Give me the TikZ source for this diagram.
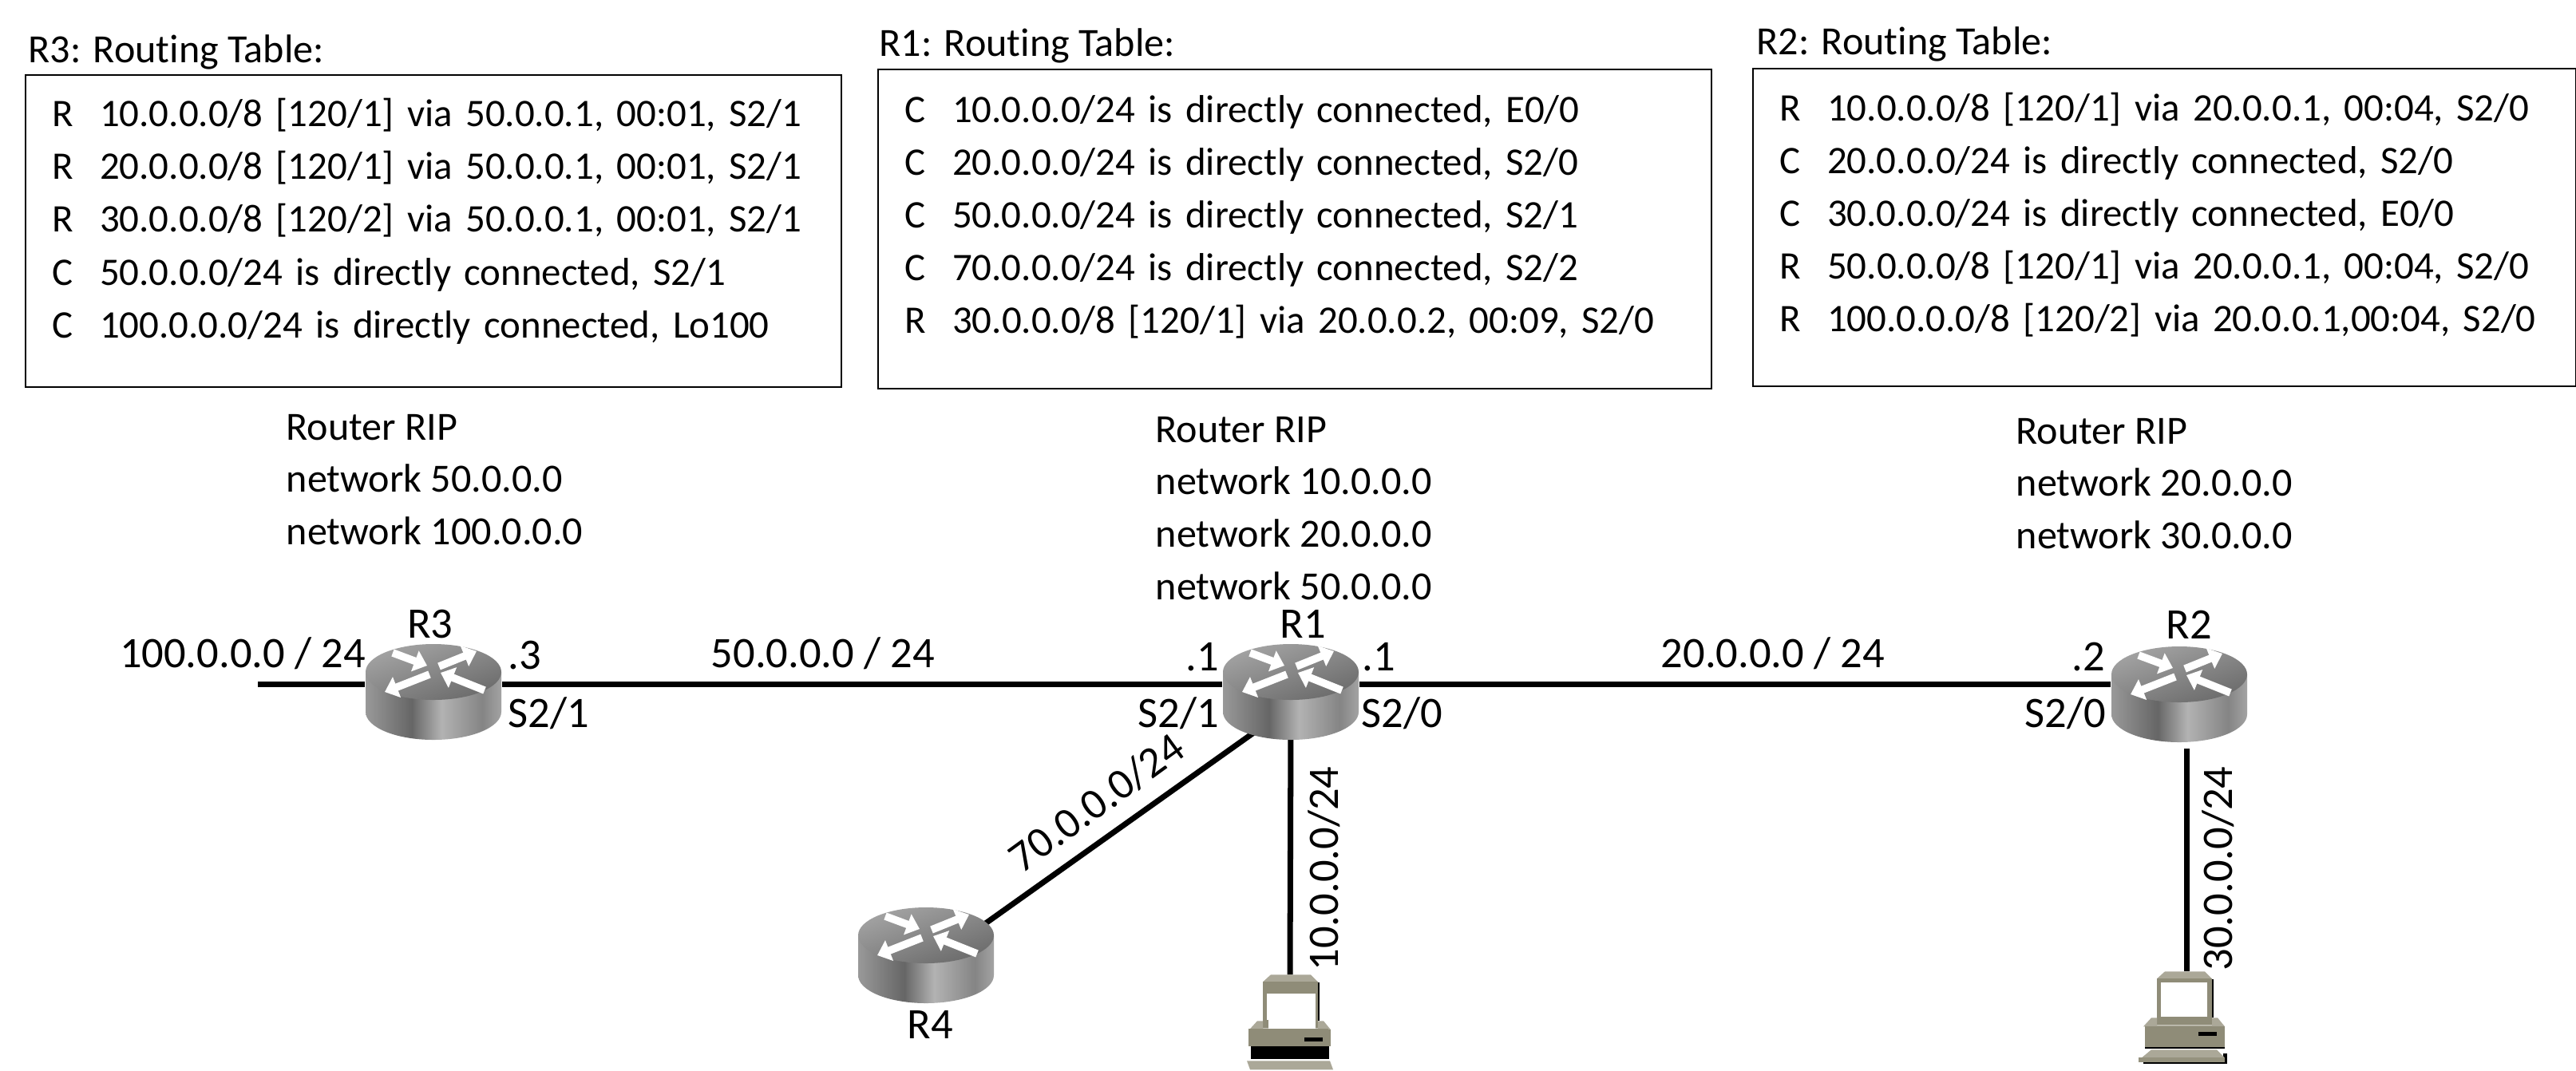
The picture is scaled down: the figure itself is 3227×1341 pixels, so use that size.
\documentclass[tikz,border=0pt]{standalone}
\usepackage{fontspec}
\setmainfont[Ligatures=CommonOff]{Carlito}
\usetikzlibrary{arrows.meta,positioning}
\pgfdeclarehorizontalshading{routerside}{100bp}{color(0bp)=(black!40); color(25bp)=(black!40);
  color(42bp)=(black!60); color(53bp)=(black!30); color(68bp)=(black!48); color(75bp)=(black!36); color(100bp)=(black!36)}
\definecolor{pclight}{HTML}{ABA898}
\definecolor{pcbody}{HTML}{8F8C78}
\newcommand{\rowtab}[2]{\begin{tabular}{@{}p{.6cm}@{}l@{}}#2\\[#1]\end{tabular}}
\newcommand{\cfgtab}[1]{\begin{tabular}[t]{@{}l@{}}#1\end{tabular}}

\begin{document}
\begin{tikzpicture}[
  x=0.01cm,y=-0.01cm,
  font=\fontsize{13.9}{18.8}\selectfont,
  rtable/.style={draw,line width=.6pt,anchor=north west,inner ysep=0pt,align=left},
  title/.style={anchor=base west,inner sep=0pt,font=\fontsize{14.25}{18.8}\selectfont},
  cfg/.style={anchor=base west,inner sep=0pt,font=\fontsize{14.25}{18.7}\selectfont},
  lbl/.style={inner sep=0pt,font=\fontsize{15.5}{18}\selectfont},
  rtrbox/.style={minimum width=1.71cm,minimum height=1cm,inner sep=0pt},
  pcbox/.style={minimum width=1cm,minimum height=1.14cm,inner sep=0pt},
  link/.style={line width=2pt},
  router/.pic={
    \path[shading=routerside] (-85,-15) -- (-85,35) arc[start angle=180,end angle=0,x radius=85,y radius=35] -- (85,-15) -- cycle;
    \path[left color=black!36,middle color=black!40,right color=black!58,shading angle=20] (0,-15) ellipse[x radius=85,y radius=35];
    \foreach \ax/\ay/\bx/\by in {-51/-39/-8/-23,7/-22/54/-41,-5/-12/-61/10,64/8/9/-14}
      \draw[white,line width=2.7pt,-{Triangle[length=4.6pt,width=7.6pt]}] (\ax,\ay) -- (\bx,\by);
  },
  computer/.pic={
    \fill[black] (35,10) rectangle (37,58);
    \fill[pclight] (-24,0) -- (26,0) -- (35,9) -- (-34,9) -- cycle;
    \fill[pcbody] (-34,9) rectangle (35,67);
    \fill[white] (-29,14) rectangle (29,57);
    \fill[pclight] (-51,69) -- (-41,58) -- (-34,58) -- (-34,67) -- (35,67) -- (35,58) -- (42,58) -- (51,69) -- cycle;
    \fill[pcbody] (-49,69) rectangle (51,95);
    \fill[black] (18,76) rectangle (41,81);
    \fill[black] (-49,95) rectangle (51,97);
    \fill[black] (49,103) rectangle (54,116);
    \fill[black] (-51,114) rectangle (54,116);
    \fill[pclight] (-41,98) -- (41,98) -- (51,108) -- (-53,108) -- cycle;
    \fill[pcbody!80!pclight] (-57,108) rectangle (51,114);
  },
]
\useasboundingbox (0,0) rectangle (3227,1341);

% routing tables
\node[rtable,text width=9.55cm,inner xsep=.33cm,minimum height=3.91cm] (tblR3) at (31,93)
  {\rowtab{2.4mm}{R & 10.0.0.0/8 [120/1] via 50.0.0.1, 00:01, S2/1\\
           R & 20.0.0.0/8 [120/1] via 50.0.0.1, 00:01, S2/1\\
           R & 30.0.0.0/8 [120/2] via 50.0.0.1, 00:01, S2/1\\
           C & 50.0.0.0/24 is directly connected, S2/1\\
           C & 100.0.0.0/24 is directly connected, Lo100}};
\node[rtable,text width=9.77cm,inner xsep=.33cm,minimum height=4cm] (tblR1) at (1099,86)
  {\rowtab{3mm}{C & 10.0.0.0/24 is directly connected, E0/0\\
           C & 20.0.0.0/24 is directly connected, S2/0\\
           C & 50.0.0.0/24 is directly connected, S2/1\\
           C & 70.0.0.0/24 is directly connected, S2/2\\
           R & 30.0.0.0/8 [120/1] via 20.0.0.2, 00:09, S2/0}};
\node[rtable,text width=9.64cm,inner xsep=.33cm,minimum height=3.98cm] (tblR2) at (2195,85)
  {\rowtab{3mm}{R & 10.0.0.0/8 [120/1] via 20.0.0.1, 00:04, S2/0\\
           C & 20.0.0.0/24 is directly connected, S2/0\\
           C & 30.0.0.0/24 is directly connected, E0/0\\
           R & 50.0.0.0/8 [120/1] via 20.0.0.1, 00:04, S2/0\\
           R & 100.0.0.0/8 [120/2] via 20.0.0.1,00:04, S2/0}};
\node[title] (ttlR3) at (35,78) {R3: Routing Table:};
\node[title] (ttlR1) at (1101,70) {R1: Routing Table:};
\node[title] (ttlR2) at (2200,68) {R2: Routing Table:};

% RIP config
\node[cfg] (cfgR3) at (358,551) {\cfgtab{Router RIP\\network 50.0.0.0\\network 100.0.0.0}};
\node[cfg] (cfgR1) at (1447,554) {\cfgtab{Router RIP\\network 10.0.0.0\\network 20.0.0.0\\network 50.0.0.0}};
\node[cfg] (cfgR2) at (2525,556) {\cfgtab{Router RIP\\network 20.0.0.0\\network 30.0.0.0}};

% devices
\node[rtrbox] (r3) at (543,857) {};
\node[rtrbox] (r1) at (1617,857) {};
\node[rtrbox] (r2) at (2730,857) {};
\node[rtrbox] (r4) at (1160,1187) {};
\node[pcbox] (pcA) at (1616,1279) {};
\node[pcbox] (pcB) at (2739,1275) {};
\coordinate (lo100) at (323,857);
\coordinate (r2dn) at (2739,938);

\draw[link] (lo100) -- (r3.west);
\draw[link] (r3.east) -- (r1.west);
\draw[link] (r1.east) -- (r2.west);
\draw[link] (r1.south) -- (pcA.north);
\draw[link] (r2dn) -- (pcB.north);
\draw[link] ([yshift=-2.8mm]r1.center) -- ([yshift=-2.3mm]r4.center);

\pic at (r3) {router};
\pic at (r1) {router};
\pic at ([yshift=-.3mm]r2) {router};
\pic at (r4) {router};
\pic at ([xshift=-.3mm]pcB.north) {computer};
\pic at (pcA.north) {computer};
% left-hand pc is drawn a bit differently
\begin{scope}[shift={(pcA.north)}]
  \fill[pcbody] (-34,9) rectangle (35,24);
  \fill[white] (-27,24) rectangle (32,68);
  \fill[pcbody] (-52,68) rectangle (48,90);
  \fill[black] (18,79) rectangle (41,84);
  \fill[white] (-60,90) rectangle (56,119);
  \fill[black] (-49,90) rectangle (49,106);
  \fill[pclight] (-54,108) -- (50,108) -- (54,119) -- (-50,119) -- cycle;
\end{scope}

% labels
\node[lbl,above=.6mm of r3,xshift=-.4mm] (nameR3) {R3};
\node[lbl,above=.6mm of r1,xshift=1.5mm] (nameR1) {R1};
\node[lbl,above=.5mm of r2,xshift=1.2mm] (nameR2) {R2};
\node[lbl,below=2.8mm of r4,xshift=.5mm] (nameR4) {R4};

\node[lbl,anchor=base] (netLo) at (304,836) {100.0.0.0 / 24};
\node[lbl,anchor=base] (net50) at (1031,836) {50.0.0.0 / 24};
\node[lbl,anchor=base] (net20) at (2221,836) {20.0.0.0 / 24};
\node[lbl,anchor=base,rotate=36] (net70) at (1384,1020) {70.0.0.0/24};
\node[lbl,anchor=base west,rotate=90] (net10) at (1676,1217) {10.0.0.0/24};
\node[lbl,anchor=base west,rotate=90] (net30) at (2796,1217) {30.0.0.0/24};

\node[lbl,anchor=base west] (ipR3) at (636,838) {.3};
\node[lbl,anchor=base west] (ifR3) at (636,911) {S2/1};
\node[lbl,anchor=base east] (ipR1l) at (1528,840) {.1};
\node[lbl,anchor=base east] (ifR1l) at (1528,911) {S2/1};
\node[lbl,anchor=base west] (ipR1r) at (1706,840) {.1};
\node[lbl,anchor=base west] (ifR1r) at (1705,911) {S2/0};
\node[lbl,anchor=base east] (ipR2) at (2638,840) {.2};
\node[lbl,anchor=base east] (ifR2) at (2639,911) {S2/0};
\end{tikzpicture}
\end{document}
